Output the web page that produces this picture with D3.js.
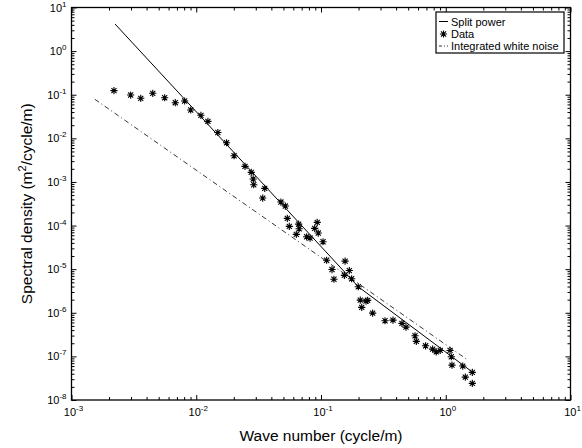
<!DOCTYPE html>
<html><head><meta charset="utf-8">
<script src="https://cdn.jsdelivr.net/npm/d3@7"></script>
<style>body{margin:0;background:#fff}svg{display:block}</style>
</head><body>
<svg id="chart" width="582" height="448"></svg>
<script>
// ---- Data ----
const dataX = [0.00219,0.00298,0.00359,0.00448,0.00558,0.00679,0.00807,0.00903,0.0109,0.0124,0.0149,0.0175,0.0201,0.0246,0.0276,0.0286,0.0289,0.0341,0.0354,0.0477,0.0518,0.0537,0.0557,0.0634,0.0662,0.0668,0.0767,0.0817,0.089,0.0933,0.0951,0.1038,0.111,0.1225,0.127,0.154,0.156,0.1686,0.176,0.199,0.2065,0.212,0.2296,0.2366,0.2594,0.326,0.3776,0.4456,0.48,0.567,0.581,0.689,0.785,0.839,0.903,1.082,1.108,1.122,1.368,1.435,1.633,1.633];
const dataY = [0.124,0.0984,0.0827,0.1077,0.0853,0.0656,0.0717,0.0446,0.0337,0.0245,0.0136,0.00793,0.00399,0.00228,0.00166,0.00117,0.000863,0.000427,0.000713,0.000346,0.00028,0.000146,9.59e-5,6.28e-5,0.000108,8.45e-5,5.53e-5,5.17e-5,8.63e-5,0.000118,6.73e-5,4.25e-5,1.6e-5,9.8e-6,5.87e-6,7.21e-6,1.53e-5,9.29e-6,6.03e-6,3.95e-6,1.95e-6,1.33e-6,1.85e-6,1.92e-6,9.84e-7,6.56e-7,6.8e-7,5.71e-7,4.7e-7,2.97e-7,2.21e-7,1.75e-7,1.47e-7,1.27e-7,1.37e-7,1.37e-7,9.8e-8,6.31e-8,6.0e-8,3.35e-8,4.3e-8,2.4e-8];
const splitX = [0.00223, 0.199, 1.63];
const splitY = [4.2, 3.95e-6, 4.4e-8];
const noiseX = [0.00154, 1.48];
const noiseY = [0.0785, 8.5e-8];
const xTickExps = [-3, -2, -1, 0, 1];
const yTickExps = [1, 0, -1, -2, -3, -4, -5, -6, -7, -8];
const legendLabels = ["Split power", "Data", "Integrated white noise"];
const xTitle = "Wave number (cycle/m)";
const yTitle = ["Spectral density (m", "2", "/cycle/m)"];

// ---- Layout ----
const L = 71.5, R = 570.5, T = 7.5, B = 400;
const font = "'Liberation Sans', Arial, Helvetica, sans-serif";
const svg = d3.select("#chart");
svg.append("rect").attr("width",582).attr("height",448).attr("fill","#fff");

const x = d3.scaleLog().domain([1e-3, 1e1]).range([L, R]);
const y = d3.scaleLog().domain([1e-8, 1e1]).range([B, T]);

const majorX = xTickExps.map(e => Math.pow(10, e));
const majorY = yTickExps.map(e => Math.pow(10, e));
const minorX = x.ticks().filter(v => !majorX.some(m => Math.abs(m - v) / m < 1e-9));
const minorY = y.ticks().filter(v => !majorY.some(m => Math.abs(m - v) / m < 1e-9));

function styleAxis(g) {
  g.select(".domain").remove();
  g.selectAll("line").attr("stroke", "#000").attr("stroke-width", 1);
  g.selectAll("text").remove();
}
svg.append("g").attr("transform", `translate(0,${B})`).call(d3.axisBottom(x).tickValues(majorX).tickSize(-5).tickFormat("")).call(styleAxis);
svg.append("g").attr("transform", `translate(0,${B})`).call(d3.axisBottom(x).tickValues(minorX).tickSize(-3).tickFormat("")).call(styleAxis);
svg.append("g").attr("transform", `translate(0,${T})`).call(d3.axisTop(x).tickValues(majorX).tickSize(-5).tickFormat("")).call(styleAxis);
svg.append("g").attr("transform", `translate(0,${T})`).call(d3.axisTop(x).tickValues(minorX).tickSize(-3).tickFormat("")).call(styleAxis);
svg.append("g").attr("transform", `translate(${L},0)`).call(d3.axisLeft(y).tickValues(majorY).tickSize(-5).tickFormat("")).call(styleAxis);
svg.append("g").attr("transform", `translate(${L},0)`).call(d3.axisLeft(y).tickValues(minorY).tickSize(-3).tickFormat("")).call(styleAxis);
svg.append("g").attr("transform", `translate(${R},0)`).call(d3.axisRight(y).tickValues(majorY).tickSize(-5).tickFormat("")).call(styleAxis);
svg.append("g").attr("transform", `translate(${R},0)`).call(d3.axisRight(y).tickValues(minorY).tickSize(-3).tickFormat("")).call(styleAxis);

svg.append("rect").attr("x", L).attr("y", T).attr("width", R - L).attr("height", B - T)
  .attr("fill", "none").attr("stroke", "#000").attr("stroke-width", 1.3);

xTickExps.forEach(e => {
  const t = svg.append("text").attr("x", x(Math.pow(10, e)) + 2).attr("y", B + 16)
    .attr("text-anchor", "middle").attr("font-family", font).attr("font-size", 11).attr("fill", "#000");
  t.append("tspan").text("10");
  t.append("tspan").attr("dy", -5).attr("font-size", 8).text(String(e));
});
yTickExps.forEach(e => {
  const t = svg.append("text").attr("x", L - 5).attr("y", y(Math.pow(10, e)) + 4)
    .attr("text-anchor", "end").attr("font-family", font).attr("font-size", 11).attr("fill", "#000");
  t.append("tspan").text("10");
  t.append("tspan").attr("dy", -5).attr("font-size", 8).text(String(e));
});

svg.append("text").attr("x", 321).attr("y", 441).attr("text-anchor", "middle")
  .attr("font-family", font).attr("font-size", 15.5).attr("fill", "#000").text(xTitle);
const yt = svg.append("text").attr("transform", `translate(32,${(T + B) / 2}) rotate(-90)`)
  .attr("text-anchor", "middle").attr("font-family", font).attr("font-size", 15.5).attr("fill", "#000");
yt.append("tspan").text(yTitle[0]);
yt.append("tspan").attr("dy", -6).attr("font-size", 11).text(yTitle[1]);
yt.append("tspan").attr("dy", 6).text(yTitle[2]);

svg.append("clipPath").attr("id", "clip").append("rect").attr("x", L).attr("y", T).attr("width", R - L).attr("height", B - T);
const plot = svg.append("g").attr("clip-path", "url(#clip)");

const line = d3.line().x(d => x(d[0])).y(d => y(d[1]));
plot.append("path").datum(splitX.map((v, i) => [v, splitY[i]])).attr("d", line)
  .attr("fill", "none").attr("stroke", "#000").attr("stroke-width", 1);
plot.append("path").datum(noiseX.map((v, i) => [v, noiseY[i]])).attr("d", line)
  .attr("fill", "none").attr("stroke", "#000").attr("stroke-width", 0.8).attr("stroke-dasharray", "5,3,1,3");

function star(cx, cy, r) {
  const d = r * Math.SQRT1_2;
  return `M${cx - r},${cy}L${cx + r},${cy}M${cx},${cy - r}L${cx},${cy + r}` +
         `M${cx - d},${cy - d}L${cx + d},${cy + d}M${cx - d},${cy + d}L${cx + d},${cy - d}`;
}
plot.selectAll("path.pt").data(dataX.map((v, i) => [v, dataY[i]])).enter().append("path")
  .attr("class", "pt").attr("d", d => star(x(d[0]), y(d[1]), 3.6))
  .attr("fill", "none").attr("stroke", "#000").attr("stroke-width", 1.1);

// legend
const lg = { x0: 436, y0: 12, w: 128, h: 41 };
svg.append("rect").attr("x", lg.x0).attr("y", lg.y0).attr("width", lg.w).attr("height", lg.h)
  .attr("fill", "#fff").attr("stroke", "#000").attr("stroke-width", 1.2);
const rows = [21.5, 34, 46];
svg.append("line").attr("x1", 439).attr("x2", 448).attr("y1", rows[0]).attr("y2", rows[0]).attr("stroke", "#000").attr("stroke-width", 1);
svg.append("path").attr("d", star(443.5, rows[1], 3.6)).attr("stroke", "#000").attr("stroke-width", 1.1).attr("fill", "none");
svg.append("line").attr("x1", 439).attr("x2", 448).attr("y1", rows[2]).attr("y2", rows[2]).attr("stroke", "#000").attr("stroke-width", 0.8).attr("stroke-dasharray", "3,2,1,2");
legendLabels.forEach((lab, i) => {
  svg.append("text").attr("x", 451).attr("y", rows[i] + 4).attr("font-family", font).attr("font-size", 11)
    .attr("fill", "#000").text(lab);
});
</script>
</body></html>
